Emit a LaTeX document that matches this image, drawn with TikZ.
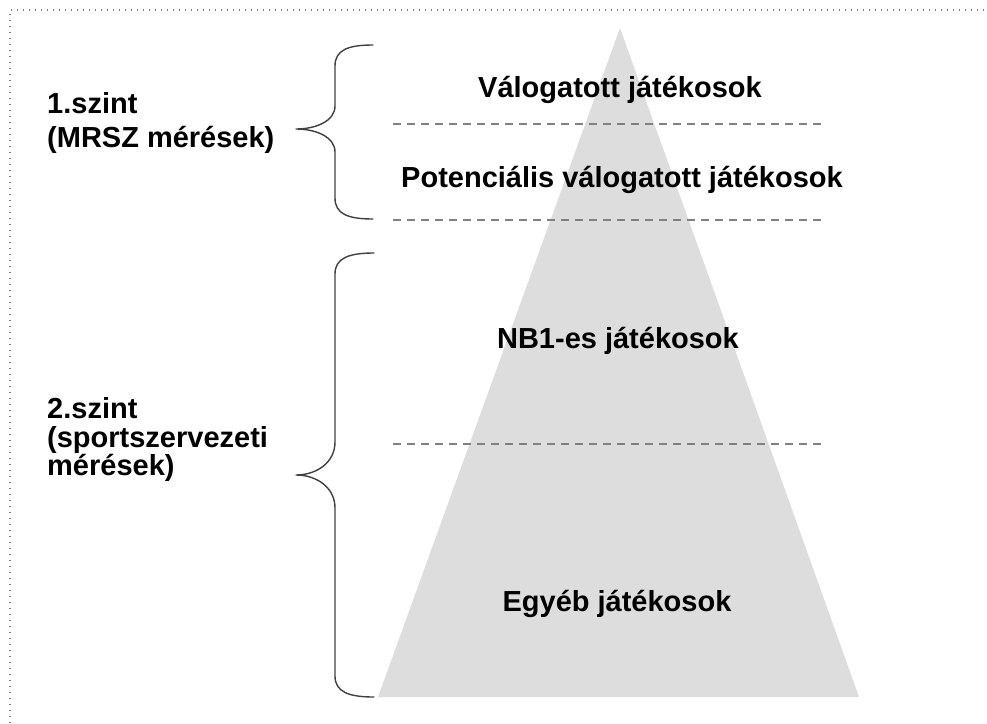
\documentclass[tikz,border=0pt]{standalone}
\usepackage{fontspec}
\setmainfont{Liberation Sans}
\definecolor{pyrgray}{HTML}{DDDDDD}
\definecolor{bracegray}{HTML}{404040}
\definecolor{linegray}{HTML}{808080}
\tikzset{
  level/.style={font=\fontsize{29}{34}\selectfont\bfseries, inner sep=0pt},
  sep line/.style={linegray, line width=1.3pt, dash pattern=on 8pt off 6pt},
  brace line/.style={bracegray, line width=1.4pt, line join=round, line cap=round},
}
\begin{document}
\begin{tikzpicture}[x=1pt, y=-1pt]
	\useasboundingbox (0,0) rectangle (987,723);
	% frame
	\draw [linegray, line width=1.2pt, dash pattern=on 1.2pt off 4.8pt] (10,723) -- (10,10) -- (987,10);
	% pyramid
	\path
	(620,28) coordinate (top)
	(378,697) coordinate (bl)
	(859,697) coordinate (br)
	;
	\fill [pyrgray] (top) -- (br) -- (bl) -- cycle;
	\foreach \y/\n in {124/a,220/b,444/c}{
		\draw [sep line] (393,\y) coordinate (\n1) -- (822,\y) coordinate (\n2);
	}
	% braces
	\draw [brace line] (373,45) .. controls (348,45) and (335,50) .. (335,66) -- (335,106)
		.. controls (335,121) and (316,129) .. (296,129) .. controls (316,129) and (335,137) .. (335,152) -- (335,198)
		.. controls (335,214) and (348,219) .. (373,219);
	\draw [brace line] (374,253) .. controls (349,253) and (335,258) .. (335,274) -- (335,442)
		.. controls (335,463) and (316,475) .. (296,475) .. controls (316,475) and (335,487) .. (335,508) -- (335,676)
		.. controls (335,692) and (349,697) .. (374,697);
	% labels
	\node [level, anchor=base] (val) at (620,97) {Válogatott játékosok};
	\node [level, anchor=base] (pot) at (622,187) {Potenciális válogatott játékosok};
	\node [level, anchor=base] (nb) at (618,348) {NB1-es játékosok};
	\node [level, anchor=base] (egy) at (617,611) {Egyéb játékosok};
	\node [level, anchor=base west] (sz1) at (47,113) {1.szint};
	\node [level, anchor=base west] (mrsz) at (47,147) {(MRSZ mérések)};
	\node [level, anchor=base west] (sz2) at (47,418) {2.szint};
	\node [level, anchor=base west] (sport) at (47,447) {(sportszervezeti};
	\node [level, anchor=base west] (mer) at (47,475) {mérések)};
\end{tikzpicture}
\end{document}
